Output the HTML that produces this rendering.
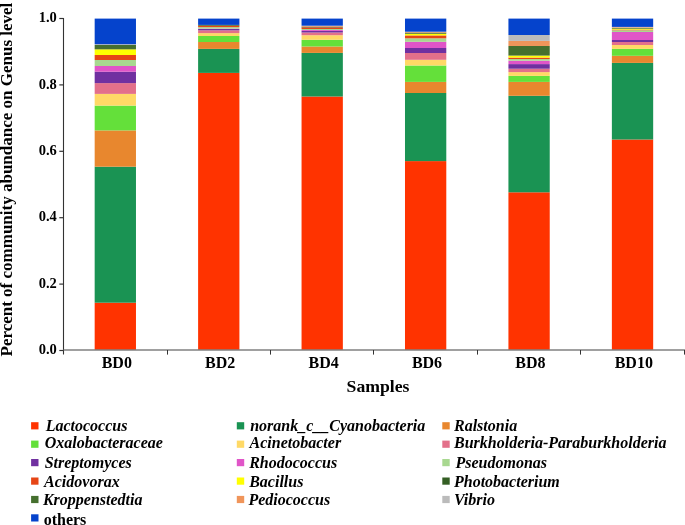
<!DOCTYPE html>
<html><head><meta charset="utf-8"><style>
html,body{margin:0;padding:0;background:#fff;}
svg{display:block;will-change:transform;}
text{font-family:"Liberation Serif",serif;font-weight:bold;fill:#000;}
.tk{font-size:14.5px;}
.xl{font-size:16px;}
.xt{font-size:17.7px;}
.yt{font-size:17px;}
.lg{font-size:16px;font-style:italic;}
.lgo{font-size:16px;}
</style></head><body>
<svg width="685" height="525" viewBox="0 0 685 525">
<rect x="94.67" y="302.70" width="41.30" height="47.30" fill="#FF3300"/>
<rect x="94.67" y="166.70" width="41.30" height="136.00" fill="#1A9353"/>
<rect x="94.67" y="130.40" width="41.30" height="36.30" fill="#E8872E"/>
<rect x="94.67" y="105.60" width="41.30" height="24.80" fill="#64E03A"/>
<rect x="94.67" y="93.90" width="41.30" height="11.70" fill="#FFD966"/>
<rect x="94.67" y="83.10" width="41.30" height="10.80" fill="#E3708A"/>
<rect x="94.67" y="71.70" width="41.30" height="11.40" fill="#7030A0"/>
<rect x="94.67" y="66.00" width="41.30" height="5.70" fill="#E055C8"/>
<rect x="94.67" y="60.00" width="41.30" height="6.00" fill="#A8D890"/>
<rect x="94.67" y="55.00" width="41.30" height="5.00" fill="#E64516"/>
<rect x="94.67" y="49.30" width="41.30" height="5.70" fill="#FFFF00"/>
<rect x="94.67" y="48.10" width="41.30" height="1.20" fill="#345E24"/>
<rect x="94.67" y="45.00" width="41.30" height="3.10" fill="#456F2E"/>
<rect x="94.67" y="44.20" width="41.30" height="0.80" fill="#BBBBBB"/>
<rect x="94.67" y="18.60" width="41.30" height="25.60" fill="#0543CC"/>
<rect x="198.11" y="72.90" width="41.30" height="277.10" fill="#FF3300"/>
<rect x="198.11" y="48.90" width="41.30" height="24.00" fill="#1A9353"/>
<rect x="198.11" y="42.00" width="41.30" height="6.90" fill="#E8872E"/>
<rect x="198.11" y="36.00" width="41.30" height="6.00" fill="#64E03A"/>
<rect x="198.11" y="33.10" width="41.30" height="2.90" fill="#FFD966"/>
<rect x="198.11" y="30.30" width="41.30" height="2.80" fill="#E3708A"/>
<rect x="198.11" y="29.00" width="41.30" height="1.30" fill="#7030A0"/>
<rect x="198.11" y="28.60" width="41.30" height="0.40" fill="#E055C8"/>
<rect x="198.11" y="27.10" width="41.30" height="1.50" fill="#A8D890"/>
<rect x="198.11" y="25.70" width="41.30" height="1.40" fill="#E64516"/>
<rect x="198.11" y="24.90" width="41.30" height="0.80" fill="#345E24"/>
<rect x="198.11" y="18.60" width="41.30" height="6.30" fill="#0543CC"/>
<rect x="301.55" y="96.50" width="41.30" height="253.50" fill="#FF3300"/>
<rect x="301.55" y="52.90" width="41.30" height="43.60" fill="#1A9353"/>
<rect x="301.55" y="46.50" width="41.30" height="6.40" fill="#E8872E"/>
<rect x="301.55" y="39.80" width="41.30" height="6.70" fill="#64E03A"/>
<rect x="301.55" y="35.20" width="41.30" height="4.60" fill="#FFD966"/>
<rect x="301.55" y="32.50" width="41.30" height="2.70" fill="#E3708A"/>
<rect x="301.55" y="30.90" width="41.30" height="1.60" fill="#7030A0"/>
<rect x="301.55" y="30.00" width="41.30" height="0.90" fill="#E055C8"/>
<rect x="301.55" y="29.00" width="41.30" height="1.00" fill="#A8D890"/>
<rect x="301.55" y="27.40" width="41.30" height="1.60" fill="#E64516"/>
<rect x="301.55" y="26.70" width="41.30" height="0.70" fill="#345E24"/>
<rect x="301.55" y="26.00" width="41.30" height="0.70" fill="#F0955A"/>
<rect x="301.55" y="25.70" width="41.30" height="0.30" fill="#BBBBBB"/>
<rect x="301.55" y="18.60" width="41.30" height="7.10" fill="#0543CC"/>
<rect x="404.99" y="161.10" width="41.30" height="188.90" fill="#FF3300"/>
<rect x="404.99" y="93.00" width="41.30" height="68.10" fill="#1A9353"/>
<rect x="404.99" y="81.90" width="41.30" height="11.10" fill="#E8872E"/>
<rect x="404.99" y="65.50" width="41.30" height="16.40" fill="#64E03A"/>
<rect x="404.99" y="59.80" width="41.30" height="5.70" fill="#FFD966"/>
<rect x="404.99" y="53.00" width="41.30" height="6.80" fill="#E3708A"/>
<rect x="404.99" y="48.00" width="41.30" height="5.00" fill="#7030A0"/>
<rect x="404.99" y="41.80" width="41.30" height="6.20" fill="#E055C8"/>
<rect x="404.99" y="38.30" width="41.30" height="3.50" fill="#A8D890"/>
<rect x="404.99" y="35.40" width="41.30" height="2.90" fill="#E64516"/>
<rect x="404.99" y="33.70" width="41.30" height="1.70" fill="#FFFF00"/>
<rect x="404.99" y="32.60" width="41.30" height="1.10" fill="#345E24"/>
<rect x="404.99" y="32.00" width="41.30" height="0.60" fill="#F0955A"/>
<rect x="404.99" y="31.70" width="41.30" height="0.30" fill="#BBBBBB"/>
<rect x="404.99" y="18.60" width="41.30" height="13.10" fill="#0543CC"/>
<rect x="508.43" y="192.30" width="41.30" height="157.70" fill="#FF3300"/>
<rect x="508.43" y="95.80" width="41.30" height="96.50" fill="#1A9353"/>
<rect x="508.43" y="81.90" width="41.30" height="13.90" fill="#E8872E"/>
<rect x="508.43" y="75.90" width="41.30" height="6.00" fill="#64E03A"/>
<rect x="508.43" y="72.10" width="41.30" height="3.80" fill="#FFD966"/>
<rect x="508.43" y="68.70" width="41.30" height="3.40" fill="#E3708A"/>
<rect x="508.43" y="64.10" width="41.30" height="4.60" fill="#7030A0"/>
<rect x="508.43" y="60.70" width="41.30" height="3.40" fill="#E055C8"/>
<rect x="508.43" y="59.00" width="41.30" height="1.70" fill="#A8D890"/>
<rect x="508.43" y="57.60" width="41.30" height="1.40" fill="#E64516"/>
<rect x="508.43" y="55.60" width="41.30" height="2.00" fill="#FFFF00"/>
<rect x="508.43" y="55.10" width="41.30" height="0.50" fill="#345E24"/>
<rect x="508.43" y="46.00" width="41.30" height="9.10" fill="#456F2E"/>
<rect x="508.43" y="40.90" width="41.30" height="5.10" fill="#F0955A"/>
<rect x="508.43" y="35.00" width="41.30" height="5.90" fill="#BBBBBB"/>
<rect x="508.43" y="18.60" width="41.30" height="16.40" fill="#0543CC"/>
<rect x="611.87" y="139.50" width="41.30" height="210.50" fill="#FF3300"/>
<rect x="611.87" y="62.90" width="41.30" height="76.60" fill="#1A9353"/>
<rect x="611.87" y="55.80" width="41.30" height="7.10" fill="#E8872E"/>
<rect x="611.87" y="48.90" width="41.30" height="6.90" fill="#64E03A"/>
<rect x="611.87" y="45.00" width="41.30" height="3.90" fill="#FFD966"/>
<rect x="611.87" y="42.00" width="41.30" height="3.00" fill="#E3708A"/>
<rect x="611.87" y="40.00" width="41.30" height="2.00" fill="#7030A0"/>
<rect x="611.87" y="32.00" width="41.30" height="8.00" fill="#E055C8"/>
<rect x="611.87" y="30.30" width="41.30" height="1.70" fill="#A8D890"/>
<rect x="611.87" y="29.60" width="41.30" height="0.70" fill="#E64516"/>
<rect x="611.87" y="28.60" width="41.30" height="1.00" fill="#FFFF00"/>
<rect x="611.87" y="28.00" width="41.30" height="0.60" fill="#345E24"/>
<rect x="611.87" y="27.30" width="41.30" height="0.70" fill="#F0955A"/>
<rect x="611.87" y="26.90" width="41.30" height="0.40" fill="#BBBBBB"/>
<rect x="611.87" y="18.60" width="41.30" height="8.30" fill="#0543CC"/>
<line x1="63.5" y1="18" x2="63.5" y2="354.5" stroke="#333" stroke-width="1.1"/>
<line x1="63.5" y1="350" x2="685" y2="350" stroke="#808080" stroke-width="1.6"/>
<line x1="59.3" y1="350.50" x2="63.5" y2="350.50" stroke="#333" stroke-width="1.2"/>
<text x="56.8" y="354.10" text-anchor="end" class="tk">0.0</text>
<line x1="59.3" y1="284.10" x2="63.5" y2="284.10" stroke="#333" stroke-width="1.2"/>
<text x="56.8" y="287.70" text-anchor="end" class="tk">0.2</text>
<line x1="59.3" y1="217.70" x2="63.5" y2="217.70" stroke="#333" stroke-width="1.2"/>
<text x="56.8" y="221.30" text-anchor="end" class="tk">0.4</text>
<line x1="59.3" y1="151.30" x2="63.5" y2="151.30" stroke="#333" stroke-width="1.2"/>
<text x="56.8" y="154.90" text-anchor="end" class="tk">0.6</text>
<line x1="59.3" y1="84.90" x2="63.5" y2="84.90" stroke="#333" stroke-width="1.2"/>
<text x="56.8" y="88.50" text-anchor="end" class="tk">0.8</text>
<line x1="59.3" y1="18.50" x2="63.5" y2="18.50" stroke="#333" stroke-width="1.2"/>
<text x="56.8" y="22.10" text-anchor="end" class="tk">1.0</text>
<line x1="167.50" y1="350" x2="167.50" y2="354.6" stroke="#333" stroke-width="1"/>
<line x1="270.50" y1="350" x2="270.50" y2="354.6" stroke="#333" stroke-width="1"/>
<line x1="373.50" y1="350" x2="373.50" y2="354.6" stroke="#333" stroke-width="1"/>
<line x1="477.50" y1="350" x2="477.50" y2="354.6" stroke="#333" stroke-width="1"/>
<line x1="580.50" y1="350" x2="580.50" y2="354.6" stroke="#333" stroke-width="1"/>
<line x1="684.50" y1="350" x2="684.50" y2="354.6" stroke="#333" stroke-width="1"/>
<text x="116.80" y="367.8" text-anchor="middle" class="xl">BD0</text>
<text x="220.20" y="367.8" text-anchor="middle" class="xl">BD2</text>
<text x="323.60" y="367.8" text-anchor="middle" class="xl">BD4</text>
<text x="427.00" y="367.8" text-anchor="middle" class="xl">BD6</text>
<text x="530.40" y="367.8" text-anchor="middle" class="xl">BD8</text>
<text x="633.80" y="367.8" text-anchor="middle" class="xl">BD10</text>
<text x="378" y="391.7" text-anchor="middle" class="xt">Samples</text>
<text transform="translate(11.9,356.5) rotate(-90)" class="yt">Percent of community abundance on Genus level</text>
<rect x="31.1" y="422.2" width="7.4" height="7.2" fill="#FF3300"/>
<text x="45.7" y="430.8" class="lg">Lactococcus</text>
<rect x="236.8" y="422.2" width="7.4" height="7.2" fill="#1A9353"/>
<text x="250.2" y="430.8" class="lg">norank_c__Cyanobacteria</text>
<rect x="442.3" y="422.2" width="7.4" height="7.2" fill="#E8872E"/>
<text x="454.0" y="430.8" class="lg">Ralstonia</text>
<rect x="31.1" y="440.6" width="7.4" height="7.2" fill="#64E03A"/>
<text x="44.7" y="448.3" class="lg">Oxalobacteraceae</text>
<rect x="236.8" y="440.6" width="7.4" height="7.2" fill="#FFD966"/>
<text x="249.6" y="448.3" class="lg">Acinetobacter</text>
<rect x="442.3" y="440.6" width="7.4" height="7.2" fill="#E3708A"/>
<text x="454.0" y="448.3" class="lg">Burkholderia-Paraburkholderia</text>
<rect x="31.1" y="459.0" width="7.4" height="7.2" fill="#7030A0"/>
<text x="44.7" y="467.7" class="lg">Streptomyces</text>
<rect x="236.8" y="459.0" width="7.4" height="7.2" fill="#E055C8"/>
<text x="249.2" y="467.7" class="lg">Rhodococcus</text>
<rect x="442.3" y="459.0" width="7.4" height="7.2" fill="#A8D890"/>
<text x="455.5" y="467.7" class="lg">Pseudomonas</text>
<rect x="31.1" y="477.5" width="7.4" height="7.2" fill="#E64516"/>
<text x="44.1" y="486.6" class="lg">Acidovorax</text>
<rect x="236.8" y="477.5" width="7.4" height="7.2" fill="#FFFF00"/>
<text x="249.2" y="486.6" class="lg">Bacillus</text>
<rect x="442.3" y="477.5" width="7.4" height="7.2" fill="#345E24"/>
<text x="454.0" y="486.6" class="lg">Photobacterium</text>
<rect x="31.1" y="495.9" width="7.4" height="7.2" fill="#456F2E"/>
<text x="42.9" y="505.2" class="lg">Kroppenstedtia</text>
<rect x="236.8" y="495.9" width="7.4" height="7.2" fill="#F0955A"/>
<text x="248.4" y="505.2" class="lg">Pediococcus</text>
<rect x="442.3" y="495.9" width="7.4" height="7.2" fill="#BBBBBB"/>
<text x="454.0" y="505.2" class="lg">Vibrio</text>
<rect x="31.1" y="514.3" width="7.4" height="7.2" fill="#0543CC"/>
<text x="43.7" y="524.5" class="lgo">others</text>
</svg>
</body></html>
